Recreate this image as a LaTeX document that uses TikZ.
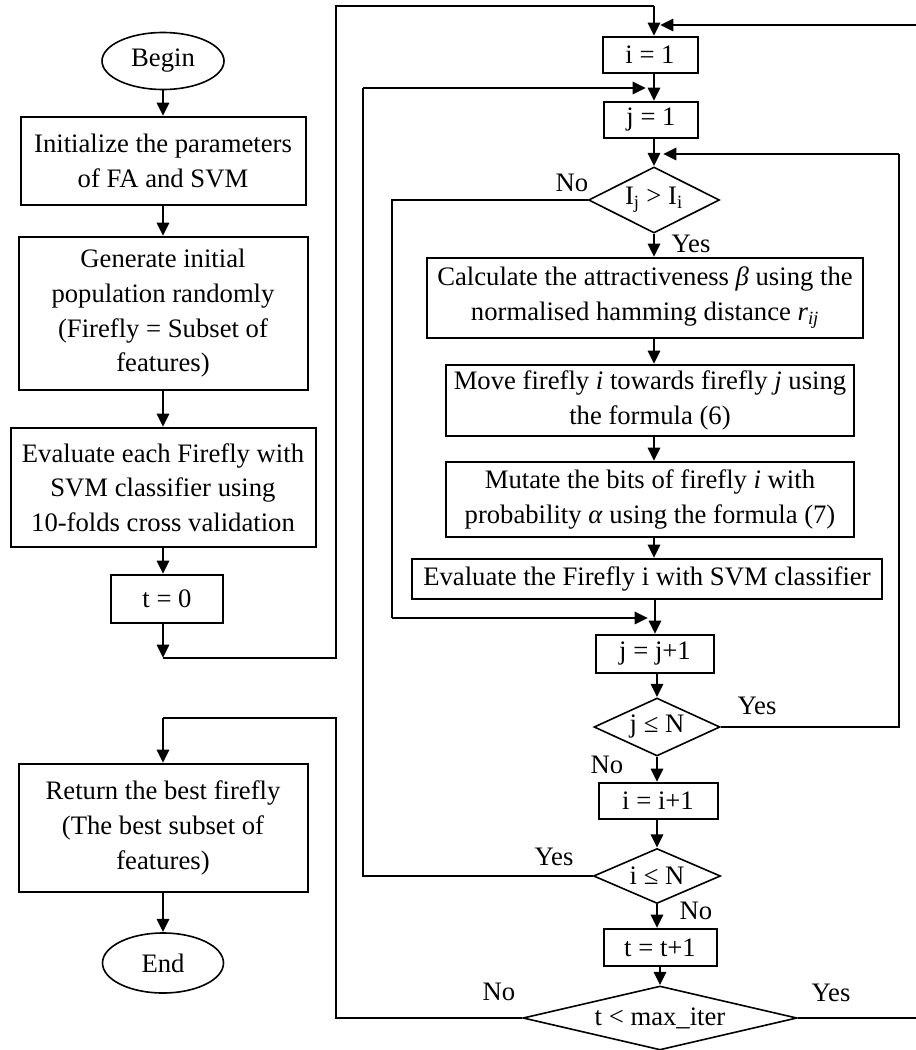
\documentclass[tikz,border=0pt]{standalone}
\usepackage{fontspec}
\setmainfont{Liberation Serif}
\usetikzlibrary{shapes.geometric,arrows.meta}
\newcommand\pxl[1]{#1*0.75pt}
\begin{document}
\begin{tikzpicture}[x=0.75pt,y=-0.75pt,
  every node/.style={font=\fontsize{20}{26}\selectfont, inner sep=0pt, align=center},
  box/.style={draw, line width=1.5pt, rectangle},
  ell/.style={draw, line width=1.2pt, ellipse},
  dia/.style={draw, line width=1.2pt, diamond},
  arr/.style={line width=2.2pt, -{Triangle[length=10pt,width=9pt]}},
  conn/.style={line width=1.1pt}]
\useasboundingbox (0,0) rectangle (915,1050);

% left column
\node[ell, minimum width=\pxl{122}, minimum height=\pxl{57}] (begin) at (163,61) {Begin};
\node[box, minimum width=\pxl{285}, minimum height=\pxl{88}] (init) at (163,161) {Initialize the parameters\\of FA and SVM};
\node[box, minimum width=\pxl{289}, minimum height=\pxl{153}] (gen) at (163,313.5) {Generate initial\\population randomly\\(Firefly = Subset of\\features)};
\node[box, minimum width=\pxl{305}, minimum height=\pxl{119}] (evl) at (163,487.5) {Evaluate each Firefly with\\SVM classifier using\\10-folds cross validation};
\node[box, minimum width=\pxl{112}, minimum height=\pxl{48}] (t0) at (167,599) {t = 0};
\node[box, minimum width=\pxl{289}, minimum height=\pxl{128}] (ret) at (163,828) {Return the best firefly\\(The best subset of\\features)};
\node[ell, minimum width=\pxl{121}, minimum height=\pxl{60}] (endn) at (163,963) {End};

% right column
\coordinate (S) at (654,0);
\node[box, minimum width=\pxl{95}, minimum height=\pxl{36}] (i1) at (650,55) {i = 1};
\node[box, minimum width=\pxl{94}, minimum height=\pxl{36}] (j1) at (651,120) {j = 1};
\node[dia, shape aspect=2, minimum width=\pxl{131}, minimum height=\pxl{66}] (d1) at (654,200) {I\textsubscript{j} > I\textsubscript{i}};
\node[box, minimum width=\pxl{436}, minimum height=\pxl{80}] (calc) at (645,298) {Calculate the attractiveness \textit{β} using the\\normalised hamming distance \textit{r}\textsubscript{\textit{ij}}};
\node[box, minimum width=\pxl{408}, minimum height=\pxl{71}] (move) at (650,400.5) {Move firefly \textit{i} towards firefly \textit{j} using\\the formula (6)};
\node[box, minimum width=\pxl{408}, minimum height=\pxl{75}] (mut) at (650,499.5) {Mutate the bits of firefly \textit{i} with\\probability \textit{α} using the formula (7)};
\node[box, minimum width=\pxl{470}, minimum height=\pxl{40}] (evf) at (647,579) {Evaluate the Firefly i with SVM classifier};
\node[box, minimum width=\pxl{118}, minimum height=\pxl{38}] (jinc) at (655,654) {j = j+1};
\node[dia, shape aspect=2.2, minimum width=\pxl{126}, minimum height=\pxl{58}] (d2) at (657,727) {j ≤ N};
\node[box, minimum width=\pxl{119}, minimum height=\pxl{36}] (iinc) at (658,801) {i = i+1};
\node[dia, shape aspect=2.3, minimum width=\pxl{127}, minimum height=\pxl{55}] (d3) at (657,876) {i ≤ N};
\node[box, minimum width=\pxl{113}, minimum height=\pxl{37}] (tinc) at (660,947.5) {t = t+1};
\node[dia, shape aspect=4.3, minimum width=\pxl{274}, minimum height=\pxl{64}] (d4) at (660,1018) {t < max\_iter};

% labels
\node (lno1) at (572,183) {No};
\node (lyes1) at (691,244) {Yes};
\node (lyes2) at (757,706) {Yes};
\node (lno2) at (607,765) {No};
\node (lyes3) at (554,857) {Yes};
\node (lno3) at (696,911) {No};
\node (lno4) at (499,992) {No};
\node (lyes4) at (831,993) {Yes};

% straight arrows, left column
\coordinate (t0out) at (163,658);
\draw[arr] (begin.south) -- (init.north);
\draw[arr] (init.south) -- (gen.north);
\draw[arr] (gen.south) -- (evl.north);
\draw[arr] (evl.south) -- (evl.south |- t0.north);
\draw[arr] (t0.south -| t0out) -- (t0out);
\draw[arr] (ret.south) -- (endn.north);

% straight arrows, right column
\draw[arr] (i1.south -| S) -- (j1.north -| S);
\draw[arr] (j1.south -| S) -- (d1.north);
\draw[arr] (d1.south) -- (calc.north -| S);
\draw[arr] (calc.south -| S) -- (move.north -| S);
\draw[arr] (move.south -| S) -- (mut.north -| S);
\draw[arr] (mut.south -| S) -- (evf.north -| S);
\draw[arr] (evf.south -| jinc) -- (jinc.north);
\draw[arr] (jinc.south -| d2) -- (d2.north);
\draw[arr] (d2.south) -- (iinc.north -| d2);
\draw[arr] (iinc.south -| d3) -- (d3.north);
\draw[arr] (d3.south) -- (tinc.north -| d3);
\draw[arr] (tinc.south -| d4) -- (d4.north);

% loop: t=0 -> i=1
\coordinate (L1a) at (336,658);
\coordinate (L1b) at (336,6);
\coordinate (L1c) at (654,6);
\draw[conn] (t0out) -- (L1a) -- (L1b) -- (L1c);
\draw[arr] (L1c) -- (i1.north -| L1c);

% loop: t<max_iter No -> return
\coordinate (L2a) at (336,1018);
\coordinate (L2b) at (336,718);
\coordinate (L2c) at (163,718);
\draw[conn] (d4.west) -- (L2a) -- (L2b) -- (L2c);
\draw[arr] (L2c) -- (ret.north);

% loop: t<max_iter Yes -> i=1
\coordinate (L3a) at (916.5,1018);
\coordinate (L3b) at (916.5,25);
\coordinate (L3c) at (660,25);
\draw[conn] (d4.east) -- (L3a) -- (L3b);
\draw[arr] (L3b) -- (L3c);

% loop: i<=N Yes -> j=1
\coordinate (L4a) at (363,876);
\coordinate (L4b) at (363,88);
\coordinate (L4c) at (646,88);
\draw[conn] (d3.west) -- (L4a) -- (L4b);
\draw[arr] (L4b) -- (L4c);

% loop: Ij>Ii No -> j=j+1
\coordinate (L5a) at (392,200);
\coordinate (L5b) at (392,618);
\coordinate (L5c) at (648,618);
\draw[conn] (d1.west) -- (L5a) -- (L5b);
\draw[arr] (L5b) -- (L5c);

% loop: j<=N Yes -> Ij>Ii
\coordinate (L6a) at (899,727);
\coordinate (L6b) at (899,154);
\coordinate (L6c) at (663,154);
\draw[conn] (d2.east) -- (L6a) -- (L6b);
\draw[arr] (L6b) -- (L6c);
\end{tikzpicture}
\end{document}
